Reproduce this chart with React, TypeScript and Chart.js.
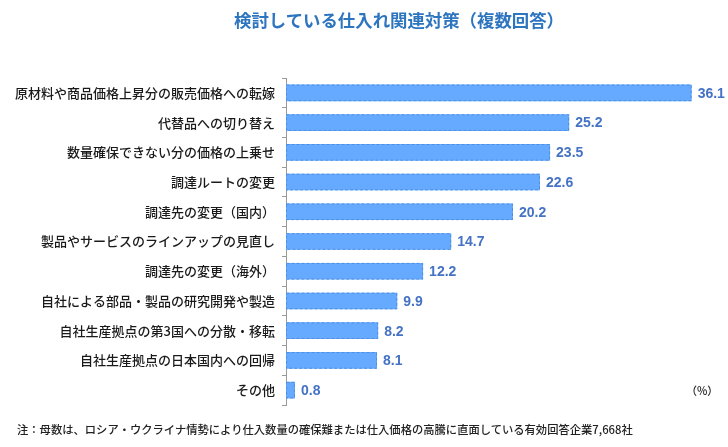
import React, { useEffect, useRef } from "react";
import { Chart, registerables } from "chart.js";

Chart.register(...registerables);

const TITLE = "検討している仕入れ関連対策（複数回答）";
const NOTE = "注：母数は、ロシア・ウクライナ情勢により仕入数量の確保難または仕入価格の高騰に直面している有効回答企業7,668社";
const UNIT = "（%）";

const categories = [
  "原材料や商品価格上昇分の販売価格への転嫁",
  "代替品への切り替え",
  "数量確保できない分の価格の上乗せ",
  "調達ルートの変更",
  "調達先の変更（国内）",
  "製品やサービスのラインアップの見直し",
  "調達先の変更（海外）",
  "自社による部品・製品の研究開発や製造",
  "自社生産拠点の第3国への分散・移転",
  "自社生産拠点の日本国内への回帰",
  "その他",
];
const values = [36.1, 25.2, 23.5, 22.6, 20.2, 14.7, 12.2, 9.9, 8.2, 8.1, 0.8];

const FONT = "'Noto Sans CJK JP', 'Noto Sans', sans-serif";
const NUM_FONT = "'Liberation Sans', Arial, sans-serif";

const barDecor = {
  id: "barDecor",
  afterDatasetsDraw(chart: any) {
    const ctx = chart.ctx;
    const meta = chart.getDatasetMeta(0);
    const ds = chart.data.datasets[0];
    ctx.save();
    meta.data.forEach((bar: any, i: number) => {
      const p = bar.getProps(["x", "y", "base", "height"], true);
      const left = Math.min(p.base, p.x);
      const right = Math.max(p.base, p.x);
      const top = p.y - p.height / 2;
      ctx.setLineDash([3, 2]);
      ctx.lineWidth = 1;
      ctx.strokeStyle = "#4d8fe0";
      ctx.strokeRect(left + 0.5, top + 0.5, right - left - 1, p.height - 1);
      ctx.setLineDash([]);
      ctx.fillStyle = "#4472C4";
      ctx.font = `bold 14px ${NUM_FONT}`;
      ctx.textAlign = "left";
      ctx.textBaseline = "middle";
      ctx.fillText(Number(ds.data[i]).toFixed(1), right + 6, p.y + 1);
    });
    ctx.restore();
  },
};

export default function App() {
  const ref = useRef<HTMLCanvasElement | null>(null);
  useEffect(() => {
    if (!ref.current) return;
    const chart = new Chart(ref.current, {
      type: "bar",
      data: {
        labels: categories,
        datasets: [
          {
            data: values,
            backgroundColor: "#66aaff",
            borderWidth: 0,
            barPercentage: 0.56,
            categoryPercentage: 1,
          },
        ],
      },
      options: {
        indexAxis: "y",
        responsive: false,
        animation: false,
        layout: { padding: { top: 78, bottom: 42, left: 0, right: 15 } },
        plugins: {
          legend: { display: false },
          tooltip: { enabled: false },
          title: { display: false },
        },
        scales: {
          x: { display: false, min: 0, max: 38 },
          y: {
            afterFit: (s: any) => {
              s.width = 286;
            },
            grid: {
              display: true,
              drawOnChartArea: false,
              drawTicks: true,
              tickLength: 4,
              offset: true,
              color: "#999",
            },
            border: { display: true, color: "#999" },
            ticks: {
              color: "#1a1a1a",
              padding: 7,
              font: { family: FONT, size: 13, weight: "500" },
            },
          },
        },
      },
      plugins: [barDecor],
    });
    return () => chart.destroy();
  }, []);

  return (
    <div
      style={{
        position: "fixed",
        left: 0,
        top: 0,
        width: 728,
        height: 447,
        background: "#fff",
        fontFamily: FONT,
      }}
    >
      <canvas ref={ref} width={728} height={447} style={{ position: "absolute", left: 0, top: 0 }} />
      <div
        style={{
          position: "absolute",
          left: 0,
          width: 798,
          top: 8,
          textAlign: "center",
          fontSize: 17.4,
          fontWeight: "bold",
          color: "#2e75c0",
          lineHeight: "24px",
          whiteSpace: "nowrap",
        }}
      >
        {TITLE}
      </div>
      <div
        style={{
          position: "absolute",
          left: 686,
          top: 382,
          fontSize: 11,
          fontWeight: 500,
          color: "#222",
          lineHeight: "16px",
          whiteSpace: "nowrap",
        }}
      >
        {UNIT}
      </div>
      <div
        style={{
          position: "absolute",
          left: 17,
          top: 421,
          fontSize: 11.3,
          fontWeight: 500,
          color: "#222",
          lineHeight: "16px",
          whiteSpace: "nowrap",
        }}
      >
        {NOTE}
      </div>
    </div>
  );
}
